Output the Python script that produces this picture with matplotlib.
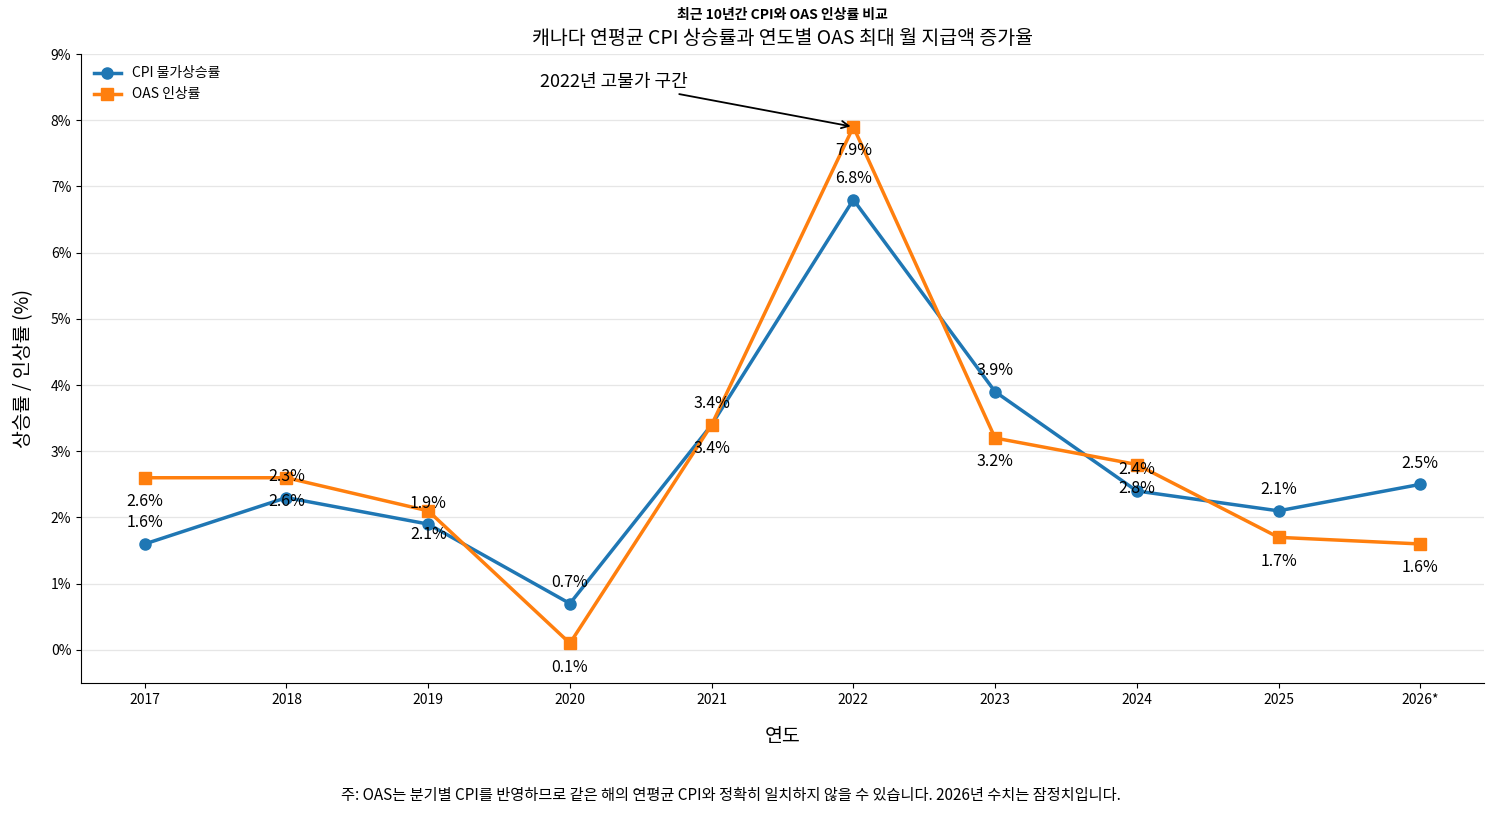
import numpy as np
import matplotlib.pyplot as plt
from matplotlib.ticker import FuncFormatter

plt.rcParams['font.family'] = ['Noto Sans CJK KR', 'DejaVu Sans']

years = ["2017", "2018", "2019", "2020", "2021", "2022", "2023", "2024", "2025", "2026*"]
cpi = [1.6, 2.3, 1.9, 0.7, 3.4, 6.8, 3.9, 2.4, 2.1, 2.5]
oas = [2.6, 2.6, 2.1, 0.1, 3.4, 7.9, 3.2, 2.8, 1.7, 1.6]

x = np.arange(len(years))

fig = plt.figure(figsize=(14.94, 8.14), dpi=100)
ax = fig.add_axes([81 / 1494, 1 - 683 / 814, (1484 - 81) / 1494, (683 - 54) / 814])

ax.plot(x, cpi, color="#1f77b4", marker="o", markersize=8, linewidth=2.5, label="CPI 물가상승률")
ax.plot(x, oas, color="#ff7f0e", marker="s", markersize=8, linewidth=2.5, label="OAS 인상률")

# labels: CPI above, OAS below
for i in range(len(years)):
    ax.annotate(f"{cpi[i]:.1f}%", (x[i], cpi[i]), xytext=(0, 9), textcoords="offset points",
                ha="center", va="bottom", fontsize=11.5)
    ax.annotate(f"{oas[i]:.1f}%", (x[i], oas[i]), xytext=(0, -11), textcoords="offset points",
                ha="center", va="top", fontsize=11.5)

ax.annotate("2022년 고물가 구간", xy=(5, 7.9), xytext=(3.31, 8.58),
            ha="center", va="center", fontsize=13,
            arrowprops=dict(arrowstyle="->", color="black", lw=1.3))

ax.set_xticks(x)
ax.set_xticklabels(years)
ax.set_ylim(-0.5, 9)
ax.set_yticks(np.arange(0, 10, 1))
ax.yaxis.set_major_formatter(FuncFormatter(lambda v, p: f"{v:.0f}%"))
ax.tick_params(labelsize=10)
ax.grid(axis="y", color="#e6e6e6", linewidth=0.9)
ax.set_axisbelow(True)
ax.spines["top"].set_visible(False)
ax.spines["right"].set_visible(False)

ax.set_xlabel("연도", fontsize=14, labelpad=14)
ax.set_ylabel("상승률 / 인상률 (%)", fontsize=14, labelpad=12)
ax.set_title("캐나다 연평균 CPI 상승률과 연도별 OAS 최대 월 지급액 증가율", fontsize=14, pad=7.5)
fig.text(782 / 1494, 1 - 15 / 814, "최근 10년간 CPI와 OAS 인상률 비교", ha="center", va="center",
         fontsize=10, fontweight="bold")

ax.legend(loc="upper left", frameon=False, fontsize=10)

fig.text(731 / 1494, 1 - 795 / 814,
         "주: OAS는 분기별 CPI를 반영하므로 같은 해의 연평균 CPI와 정확히 일치하지 않을 수 있습니다. 2026년 수치는 잠정치입니다.",
         ha="center", va="center", fontsize=11)

plt.savefig("out.png", dpi=100)
